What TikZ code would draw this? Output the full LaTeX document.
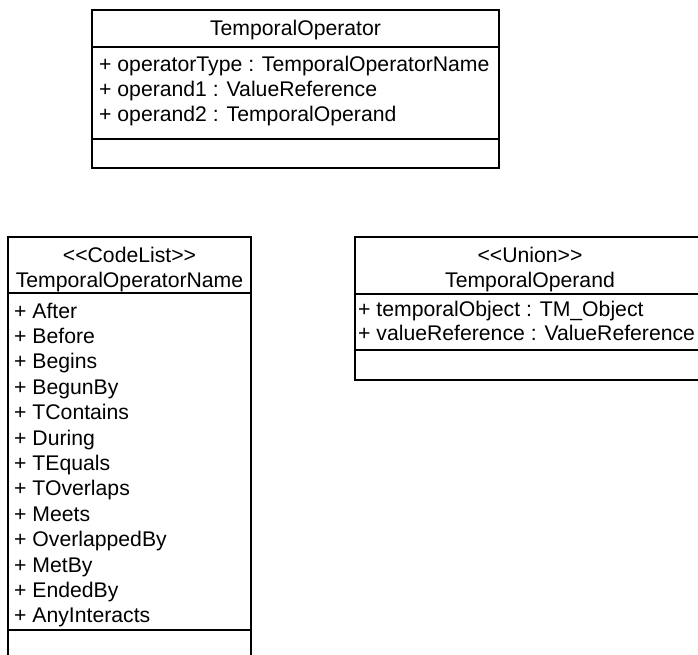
\documentclass[tikz,border=0pt]{standalone}
\usepackage{fontspec}
\setmainfont{Liberation Sans}

\begin{document}
\begin{tikzpicture}[x=1pt, y=-1pt,
	classe/.style = {draw, line width=1.2pt, rectangle, anchor=north west, inner sep=0, outer sep=0},
	linha/.style = {line width=1.2pt},
	titulo/.style = {anchor=base, inner sep=0, font=\fontsize{21.2}{25}\selectfont},
	atributo/.style = {anchor=base west, inner sep=0, font=\fontsize{21.2}{25}\selectfont}]
		\clip (0,0) rectangle (698,655);
		
		\node[classe, minimum width=407pt, minimum height=158pt] (TO) at (92,10) {};
		\node[classe, minimum width=243pt, minimum height=440pt] (TON) at (8,237) {};
		\node[classe, minimum width=350pt, minimum height=143pt] (TOp) at (355,237) {};
		
		\draw[linha] (TO.west |- 0,47) -- (TO.east |- 0,47);
		\draw[linha] (TO.west |- 0,139) -- (TO.east |- 0,139);
		\draw[linha] (TON.west |- 0,293) -- (TON.east |- 0,293);
		\draw[linha] (TON.west |- 0,630) -- (TON.east |- 0,630);
		\draw[linha] (TOp.west |- 0,294) -- (TOp.east |- 0,294);
		\draw[linha] (TOp.west |- 0,350) -- (TOp.east |- 0,350);
		
		\node[titulo] (TOnome) at (295.5,35.7) {TemporalOperator};
		\node[atributo] (TOa1) at (99,72) {+ operatorType : TemporalOperatorName};
		\node[atributo] (TOa2) at (99,97) {+ operand1 : ValueReference};
		\node[atributo] (TOa3) at (99,122) {+ operand2 : TemporalOperand};
		
		\node[titulo] (TONest) at (129.5,262) {<\kern0pt<CodeList>\kern0pt>};
		\node[titulo] (TONnome) at (129.5,287) {TemporalOperatorName};
		\node[atributo] (TONv1) at (14,318) {+ After};
		\node[atributo] (TONv2) at (14,343.4) {+ Before};
		\node[atributo] (TONv3) at (14,368.8) {+ Begins};
		\node[atributo] (TONv4) at (14,394.2) {+ BegunBy};
		\node[atributo] (TONv5) at (14,419.6) {+ TContains};
		\node[atributo] (TONv6) at (14,445) {+ During};
		\node[atributo] (TONv7) at (14,470.4) {+ TEquals};
		\node[atributo] (TONv8) at (14,495.8) {+ TOverlaps};
		\node[atributo] (TONv9) at (14,521.2) {+ Meets};
		\node[atributo] (TONv10) at (14,546.6) {+ OverlappedBy};
		\node[atributo] (TONv11) at (14,572) {+ MetBy};
		\node[atributo] (TONv12) at (14,597.4) {+ EndedBy};
		\node[atributo] (TONv13) at (14,622.8) {+ AnyInteracts};
		
		\node[titulo] (TOpest) at (530,262) {<\kern0pt<Union>\kern0pt>};
		\node[titulo] (TOpnome) at (530,287) {TemporalOperand};
		\node[atributo] (TOpa1) at (358,316) {+ temporalObject : TM\_Object};
		\node[atributo] (TOpa2) at (358,340) {+ valueReference : ValueReference};
	\end{tikzpicture}
\end{document}
